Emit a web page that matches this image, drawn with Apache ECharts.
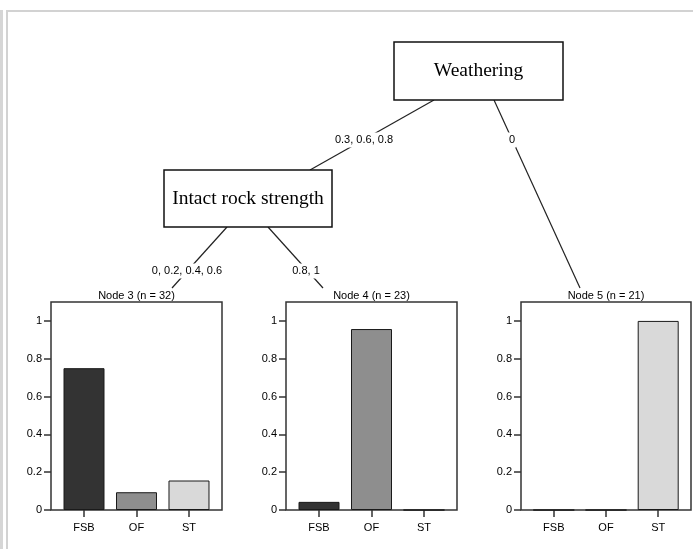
<!DOCTYPE html>
<html>
<head>
<meta charset="utf-8">
<script src="https://cdn.jsdelivr.net/npm/echarts@6/dist/echarts.min.js"></script>
<style>
  html, body { margin: 0; background: #fff; }
  #chart { width: 693px; height: 549px; }
</style>
</head>
<body>
<div id="chart"></div>
<script>
// terminal node class distributions (ctree-style)
const classes = ["FSB", "OF", "ST"];
const classColors = ["#333333", "#8e8e8e", "#d9d9d9"];
const nodeIds = [3, 4, 5];
const nodeSizes = [32, 23, 21];
const node3Probs = [0.75, 0.094, 0.156];
const node4Probs = [0.043, 0.957, 0];
const node5Probs = [0, 0, 1];
const yTicks = [0, 0.2, 0.4, 0.6, 0.8, 1];
const innerNodes = ["Weathering", "Intact rock strength"];
const splitLabels = ["0.3, 0.6, 0.8", "0", "0, 0.2, 0.4, 0.6", "0.8, 1"];

const probs = [node3Probs, node4Probs, node5Probs];
const sans = "Liberation Sans";
const serif = "Liberation Serif";
const panelLeft = [51, 286, 521];
const panelWidth = [171, 171, 170];
const panelTop = 302;
const panelHeight = 208;

const chart = echarts.init(document.getElementById("chart"));

const grids = panelLeft.map((left, i) => ({
  left: left,
  top: panelTop,
  width: panelWidth[i],
  height: panelHeight,
  show: true,
  borderColor: "#333",
  borderWidth: 1.5,
  backgroundColor: "transparent"
}));

const xAxes = panelLeft.map((_, i) => ({
  type: "value",
  gridIndex: i,
  min: 0.3714,
  max: 3.6286,
  axisLine: { show: false },
  splitLine: { show: false },
  axisTick: { show: true, customValues: [1, 2, 3], length: 7, lineStyle: { color: "#333", width: 1.5 } },
  axisLabel: {
    customValues: [1, 2, 3],
    formatter: (v) => classes[Math.round(v) - 1],
    margin: 12,
    color: "#000",
    fontSize: 11,
    fontFamily: sans
  }
}));

const yAxes = panelLeft.map((_, i) => ({
  type: "value",
  gridIndex: i,
  min: 0,
  max: 1.1,
  axisLine: { show: false },
  splitLine: { show: false },
  axisTick: { show: true, customValues: yTicks, length: 7, lineStyle: { color: "#333", width: 1.5 } },
  axisLabel: {
    customValues: yTicks,
    formatter: (v) => String(v),
    margin: 9,
    color: "#000",
    fontSize: 11,
    fontFamily: sans
  }
}));

const series = probs.map((p, i) => ({
  type: "bar",
  xAxisIndex: i,
  yAxisIndex: i,
  barWidth: 41,
  silent: true,
  itemStyle: { borderColor: "#1a1a1a", borderWidth: 1 },
  data: p.map((v, k) => ({ value: [k + 1, v], itemStyle: { color: classColors[k] } }))
}));

// tree decoration: edges, inner node boxes, labels
const edges = [
  [434, 100, 310, 170],
  [494, 100, 580, 288],
  [227, 227, 172, 288],
  [268, 227, 323, 288]
];
const edgeLabelPos = [[364, 140], [512, 140], [187, 271], [306, 271]];
const boxes = [[394, 42, 169, 58], [164, 170, 168, 57]];

const graphic = [
  { type: "rect", shape: { x: 0, y: 10, width: 3, height: 560 }, style: { fill: "#d6d6d6" }, z: 1 },
  { type: "rect", shape: { x: 7, y: 11, width: 720, height: 600 }, style: { fill: "none", stroke: "#d2d2d2", lineWidth: 2 }, z: 1 }
];
edges.forEach((e) => {
  graphic.push({ type: "line", shape: { x1: e[0], y1: e[1], x2: e[2], y2: e[3] }, style: { stroke: "#222", lineWidth: 1.2 }, z: 10 });
});
splitLabels.forEach((t, i) => {
  graphic.push({
    type: "text", z: 20,
    style: {
      text: t, x: edgeLabelPos[i][0], y: edgeLabelPos[i][1],
      textAlign: "center", textVerticalAlign: "middle",
      font: "11px " + sans, fill: "#000",
      backgroundColor: "#fff", padding: [2, 1]
    }
  });
});
boxes.forEach((b, i) => {
  graphic.push({ type: "rect", shape: { x: b[0], y: b[1], width: b[2], height: b[3] }, style: { fill: "#fff", stroke: "#111", lineWidth: 1.5 }, z: 15 });
  graphic.push({
    type: "text", z: 20,
    style: {
      text: innerNodes[i], x: b[0] + b[2] / 2, y: b[1] + b[3] / 2,
      textAlign: "center", textVerticalAlign: "middle",
      font: "19.5px " + serif, fill: "#000"
    }
  });
});
nodeIds.forEach((id, i) => {
  graphic.push({
    type: "text", z: 20,
    style: {
      text: "Node " + id + " (n = " + nodeSizes[i] + ")",
      x: panelLeft[i] + panelWidth[i] / 2, y: 296,
      textAlign: "center", textVerticalAlign: "middle",
      font: "11px " + sans, fill: "#000"
    }
  });
});

chart.setOption({
  animation: false,
  grid: grids,
  xAxis: xAxes,
  yAxis: yAxes,
  series: series,
  graphic: graphic
});
</script>
</body>
</html>
